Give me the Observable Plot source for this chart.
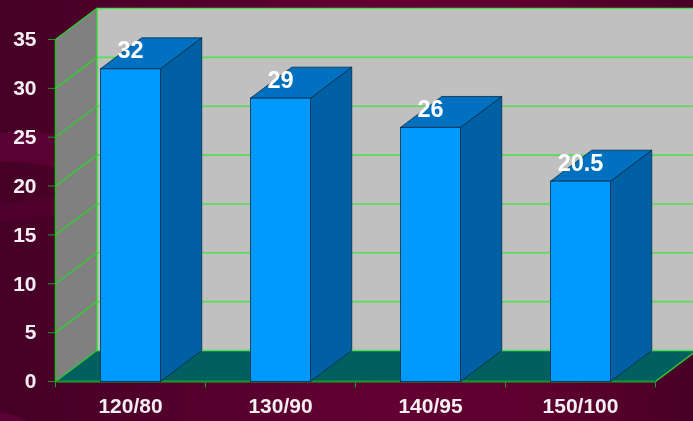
<!DOCTYPE html>
<html>
<head>
<meta charset="utf-8">
<script src="https://cdn.jsdelivr.net/npm/d3@7"></script>
<script src="https://cdn.jsdelivr.net/npm/@observablehq/plot@0.6"></script>
<style>
  html, body { margin: 0; padding: 0; width: 693px; height: 421px; overflow: hidden; background: #55002c; }
  #stage { position: relative; width: 693px; height: 421px; }
  #backdrop, #chart { position: absolute; left: 0; top: 0; }
  #chart svg { display: block; background: transparent; }
  .soft text { filter: blur(0.4px); }
</style>
</head>
<body>
<div id="stage">
  <svg id="backdrop" width="693" height="421" xmlns="http://www.w3.org/2000/svg">
    <defs>
      <linearGradient id="wash" x1="0" y1="0" x2="1" y2="0">
        <stop offset="0" stop-color="#450026"/>
        <stop offset="0.2" stop-color="#4f002a"/>
        <stop offset="0.55" stop-color="#620032"/>
        <stop offset="0.8" stop-color="#5c002e"/>
        <stop offset="1" stop-color="#480026"/>
      </linearGradient>
    </defs>
    <rect width="693" height="421" fill="url(#wash)"/>
    <path d="M0 133 Q30 130 55 134 L55 168 Q25 160 0 162Z" fill="#5a0032"/>
    <path d="M0 204 Q30 200 55 197 L55 215 Q25 218 0 222Z" fill="#50002d"/>
    <path d="M0 412 Q14 414 28 421 L0 421Z" fill="#5a0032"/>
  </svg>
  <div id="chart" class="soft"></div>
</div>
<script>
// Share of patients per blood pressure band
const categories = ["120/80", "130/90", "140/95", "150/100"];
const values = [32, 29, 26, 20.5];
const valueLabels = ["32", "29", "26", "20.5"];
const valueTicks = [0, 5, 10, 15, 20, 25, 30, 35];
const categoryEdges = [0, 1, 2, 3, 4];

// Oblique projection: depth expressed in axis units
const depthX = 0.275;
const depthY = 3.17;
const barHalf = 0.2;

const colors = {
  front: "#0099ff",
  side: "#0060a3",
  top: "#0070c0",
  floor: "#006060",
  wall: "#c0c0c0",
  leftWall: "#808080",
  grid: "#55dd55",
  edge: "#33cc33",
  axis: "#1c9a2c",
  barEdge: "#04283f",
  text: "#f4eef2"
};

// A closed face as a list of vertices tagged with its group
function face(id, pts) {
  return [...pts, pts[0]].map(([x, y]) => ({id, x, y}));
}
const polygon = (pts, fill, extra = {}) =>
  Plot.line(face("f", pts), {x: "x", y: "y", z: "id", fill, stroke: "none", curve: "linear", ...extra});

const maxY = 35;
const xMax = 4;

const bars = values.map((v, i) => {
  const l = i + 0.5 - barHalf, r = i + 0.5 + barHalf;
  return {l, r, v, i};
});

const chart = Plot.plot({
  width: 693,
  height: 421,
  marginLeft: 55,
  marginRight: 38,
  marginTop: 39,
  marginBottom: 40,
  style: {background: "transparent", overflow: "hidden"},
  x: {domain: [0, xMax], range: [55, 655], axis: null},
  y: {domain: [0, maxY], range: [381, 39], axis: null},
  marks: [
    // Back wall, left wall and floor
    polygon([[depthX, depthY], [xMax + depthX, depthY], [xMax + depthX, maxY + depthY], [depthX, maxY + depthY]], colors.wall),
    polygon([[0, 0], [depthX, depthY], [depthX, maxY + depthY], [0, maxY]], colors.leftWall),
    polygon([[0, 0], [xMax, 0], [xMax + depthX, depthY], [depthX, depthY]], colors.floor),

    // Gridlines across both walls
    Plot.ruleY(valueTicks, {
      y: (d) => d + depthY,
      x1: depthX,
      x2: xMax + depthX,
      stroke: colors.grid,
      strokeWidth: 1.6
    }),
    Plot.link(valueTicks, {
      x1: 0,
      y1: (d) => d,
      x2: depthX,
      y2: (d) => d + depthY,
      stroke: colors.edge,
      strokeWidth: 1.4
    }),
    Plot.ruleX([0], {y1: 0, y2: maxY, stroke: "#22bb22", strokeWidth: 1.5}),
    Plot.ruleX([depthX], {y1: depthY, y2: maxY + depthY, stroke: colors.edge, strokeWidth: 1.5}),
    Plot.link([xMax], {x1: (d) => d, y1: 0, x2: (d) => d + depthX, y2: depthY, stroke: colors.edge, strokeWidth: 1.5}),

    // Axes
    Plot.axisY(valueTicks, {
      x: 0,
      anchor: "left",
      tickSize: 7,
      tickPadding: 12,
      stroke: colors.axis,
      fill: colors.text,
      fontSize: 21,
      fontWeight: "bold",
      fontFamily: "Liberation Sans",
      label: null
    }),
    Plot.ruleY([0], {x1: 0, x2: xMax, stroke: colors.axis, strokeWidth: 1.8}),
    Plot.ruleX(categoryEdges, {y1: 0, y2: -0.65, stroke: colors.axis, strokeWidth: 1}),

    // Bars: side, top, then front
    ...bars.flatMap((b) => [
      polygon([[b.r, 0], [b.r + depthX, depthY], [b.r + depthX, b.v + depthY], [b.r, b.v]], colors.side,
        {stroke: colors.barEdge, strokeWidth: 0.9, strokeOpacity: 0.85}),
      polygon([[b.l, b.v], [b.r, b.v], [b.r + depthX, b.v + depthY], [b.l + depthX, b.v + depthY]], colors.top,
        {stroke: colors.barEdge, strokeWidth: 0.9, strokeOpacity: 0.85}),
      polygon([[b.l, 0], [b.r, 0], [b.r, b.v], [b.l, b.v]], colors.front,
        {stroke: colors.barEdge, strokeWidth: 0.9, strokeOpacity: 0.85})
    ]),

    // Category labels and value labels
    Plot.text(categories, {
      x: (d, i) => i + 0.5,
      y: 0,
      text: (d) => d,
      dy: 25,
      fill: colors.text,
      fontSize: 21,
      fontWeight: "bold",
      fontFamily: "Liberation Sans"
    }),
    Plot.text(valueLabels, {
      x: (d, i) => i + 0.5,
      y: (d, i) => values[i],
      text: (d) => d,
      dy: -18,
      fill: "#ffffff",
      fontSize: 23.5,
      fontWeight: "bold",
      fontFamily: "Liberation Sans"
    })
  ]
});
document.getElementById("chart").append(chart);
</script>
</body>
</html>
